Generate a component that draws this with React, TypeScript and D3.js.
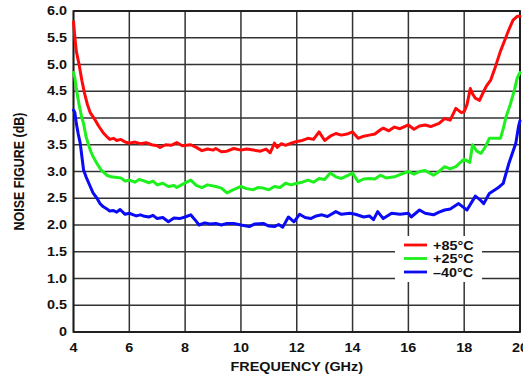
import React from 'react';
import * as d3 from 'd3';

// noise figure (dB) vs frequency (GHz)
const red85: [number, number][] = [
  [4.0, 5.8], [4.05, 5.5], [4.1, 5.25], [4.2, 5.0], [4.3, 4.7], [4.4, 4.45], [4.5, 4.25], [4.6, 4.1],
  [4.78, 3.96], [4.9, 3.85], [5.07, 3.72], [5.2, 3.65], [5.3, 3.6], [5.43, 3.62], [5.55, 3.58], [5.7, 3.6],
  [5.85, 3.55], [6.0, 3.53], [6.2, 3.55], [6.4, 3.52], [6.6, 3.54], [6.8, 3.5], [7.0, 3.48], [7.1, 3.45],
  [7.3, 3.5], [7.5, 3.49], [7.7, 3.54], [7.9, 3.48], [8.2, 3.5], [8.4, 3.45], [8.6, 3.39], [8.8, 3.42],
  [9.0, 3.4], [9.1, 3.43], [9.3, 3.37], [9.5, 3.38], [9.74, 3.43], [10.0, 3.4], [10.2, 3.42], [10.45, 3.4],
  [10.7, 3.38], [10.9, 3.42], [11.05, 3.35], [11.2, 3.53], [11.3, 3.45], [11.45, 3.52], [11.6, 3.49],
  [11.8, 3.53], [12.0, 3.56], [12.2, 3.58], [12.4, 3.62], [12.6, 3.6], [12.8, 3.74], [13.0, 3.58],
  [13.2, 3.66], [13.4, 3.71], [13.6, 3.68], [13.8, 3.7], [14.0, 3.74], [14.2, 3.62], [14.4, 3.66],
  [14.6, 3.68], [14.8, 3.7], [15.0, 3.78], [15.1, 3.81], [15.3, 3.76], [15.5, 3.83], [15.7, 3.8],
  [16.0, 3.87], [16.2, 3.79], [16.4, 3.85], [16.6, 3.87], [16.8, 3.84], [17.1, 3.9], [17.3, 3.99],
  [17.5, 3.96], [17.7, 4.18], [17.9, 4.1], [18.0, 4.12], [18.1, 4.25], [18.22, 4.55], [18.3, 4.45],
  [18.4, 4.37], [18.55, 4.33], [18.7, 4.5], [18.8, 4.6], [18.95, 4.71], [19.12, 4.96], [19.3, 5.25],
  [19.45, 5.45], [19.6, 5.65], [19.75, 5.83], [19.9, 5.9], [20.0, 5.9],
];

const green25: [number, number][] = [
  [4.0, 4.85], [4.05, 4.75], [4.1, 4.55], [4.2, 4.25], [4.3, 4.0], [4.36, 3.9], [4.45, 3.65], [4.6, 3.4],
  [4.7, 3.28], [4.84, 3.15], [5.0, 3.02], [5.2, 2.93], [5.35, 2.9], [5.55, 2.89], [5.7, 2.88], [5.85, 2.82],
  [6.0, 2.84], [6.2, 2.8], [6.35, 2.85], [6.5, 2.83], [6.7, 2.79], [6.85, 2.82], [7.0, 2.75], [7.2, 2.78],
  [7.4, 2.72], [7.6, 2.74], [7.7, 2.7], [7.9, 2.76], [8.2, 2.84], [8.4, 2.74], [8.6, 2.7], [8.8, 2.75],
  [9.1, 2.72], [9.3, 2.69], [9.5, 2.6], [9.7, 2.65], [10.0, 2.72], [10.2, 2.68], [10.45, 2.66], [10.6, 2.7],
  [10.8, 2.69], [11.0, 2.66], [11.2, 2.72], [11.4, 2.7], [11.6, 2.78], [11.8, 2.75], [12.0, 2.78],
  [12.2, 2.8], [12.4, 2.84], [12.6, 2.8], [12.8, 2.87], [13.0, 2.85], [13.2, 2.97], [13.4, 2.9],
  [13.6, 2.87], [13.8, 2.92], [14.0, 2.97], [14.2, 2.81], [14.4, 2.86], [14.6, 2.87], [14.8, 2.86],
  [15.0, 2.93], [15.2, 2.88], [15.5, 2.9], [15.7, 2.94], [16.0, 3.0], [16.2, 2.95], [16.4, 3.0],
  [16.6, 3.02], [16.9, 2.93], [17.1, 3.0], [17.3, 3.09], [17.5, 3.05], [17.7, 3.09], [18.0, 3.23],
  [18.2, 3.17], [18.3, 3.5], [18.45, 3.38], [18.6, 3.34], [18.75, 3.45], [18.9, 3.62], [19.1, 3.62],
  [19.3, 3.62], [19.4, 3.8], [19.5, 4.02], [19.65, 4.25], [19.8, 4.52], [19.9, 4.75], [20.0, 4.85],
];

const blue40: [number, number][] = [
  [4.0, 4.15], [4.05, 4.1], [4.1, 3.9], [4.17, 3.7], [4.24, 3.53], [4.3, 3.28], [4.36, 3.03], [4.45, 2.9],
  [4.6, 2.72], [4.7, 2.6], [4.84, 2.5], [4.95, 2.4], [5.07, 2.34], [5.2, 2.3], [5.3, 2.26], [5.43, 2.27],
  [5.55, 2.24], [5.67, 2.29], [5.85, 2.2], [6.0, 2.22], [6.1, 2.2], [6.25, 2.17], [6.4, 2.19], [6.5, 2.17],
  [6.7, 2.15], [6.85, 2.18], [7.0, 2.12], [7.2, 2.14], [7.4, 2.06], [7.6, 2.13], [7.8, 2.12], [8.0, 2.15],
  [8.2, 2.19], [8.35, 2.1], [8.5, 2.0], [8.7, 2.04], [8.9, 2.02], [9.1, 2.03], [9.3, 2.0], [9.5, 2.03],
  [9.74, 2.03], [10.0, 2.0], [10.3, 1.97], [10.5, 2.02], [10.8, 2.03], [11.0, 1.98], [11.2, 1.97],
  [11.35, 2.01], [11.5, 1.96], [11.7, 2.15], [11.9, 2.06], [12.1, 2.2], [12.3, 2.14], [12.5, 2.12],
  [12.7, 2.17], [12.9, 2.19], [13.1, 2.16], [13.4, 2.25], [13.6, 2.2], [13.9, 2.22], [14.1, 2.2],
  [14.4, 2.15], [14.6, 2.17], [14.75, 2.1], [14.9, 2.25], [15.1, 2.12], [15.4, 2.22], [15.7, 2.2],
  [16.0, 2.22], [16.1, 2.15], [16.4, 2.28], [16.6, 2.22], [16.9, 2.19], [17.1, 2.24], [17.3, 2.28],
  [17.5, 2.3], [17.8, 2.4], [18.0, 2.32], [18.1, 2.28], [18.4, 2.54], [18.55, 2.48], [18.7, 2.4],
  [18.9, 2.59], [19.2, 2.69], [19.4, 2.78], [19.6, 3.15], [19.85, 3.53], [19.95, 3.85], [20.0, 3.95],
];

const xTicks = [4, 6, 8, 10, 12, 14, 16, 18, 20];
const yTicks = [0, 0.5, 1.0, 1.5, 2.0, 2.5, 3.0, 3.5, 4.0, 4.5, 5.0, 5.5, 6.0];
const seriesNames = ['+85°C', '+25°C', '\u201340°C'];
const seriesColors = ['#ff0a0a', '#1ef01e', '#0a0af5'];

const W = 523;
const H = 377;
const FONT = '"Liberation Sans", Arial, sans-serif';
const SX = 1.2; // the source is squeezed a bit, text looks wider than it is tall

const App = () => {
  const x = d3.scaleLinear().domain([4, 20]).range([73.5, 520]);
  const y = d3.scaleLinear().domain([0, 6]).range([332, 11]);

  const line = d3.line<[number, number]>()
    .x(d => x(d[0]))
    .y(d => y(d[1]))
    .curve(d3.curveLinear);

  const series = [red85, green25, blue40];

  // text stretched horizontally
  const label = (tx: number, ty: number, txt: string, anchor: string, size: number, key?: string) => (
    <text key={key} transform={`translate(${tx},${ty}) scale(${SX},1)`} textAnchor={anchor}
      fontFamily={FONT} fontWeight="bold" fontSize={size} fill="#111">{txt}</text>
  );

  return (
    <svg width={W} height={H} style={{ position: 'absolute', left: 0, top: 0, background: '#fff' }}>
      {/* grid */}
      {xTicks.map(t => (
        <line key={'gx' + t} x1={x(t)} x2={x(t)} y1={y(0)} y2={y(6)} stroke="#333" strokeWidth={1.5} />
      ))}
      {yTicks.map(t => (
        <line key={'gy' + t} x1={x(4)} x2={x(20)} y1={y(t)} y2={y(t)} stroke="#333" strokeWidth={1.5} />
      ))}
      <rect x={x(4)} y={y(6)} width={x(20) - x(4)} height={y(0) - y(6)} fill="none" stroke="#1a1a1a" strokeWidth={1.8} />

      {/* legend box covers the grid */}
      <rect x={395} y={236} width={87} height={46} fill="#fff" />

      {series.map((s, i) => (
        <path key={'s' + i} d={line(s) || ''} fill="none" stroke={seriesColors[i]} strokeWidth={3}
          strokeLinejoin="round" strokeLinecap="round" />
      ))}

      {seriesNames.map((n, i) => (
        <g key={'lg' + i}>
          <line x1={404} x2={427} y1={245 + i * 13.5} y2={245 + i * 13.5} stroke={seriesColors[i]} strokeWidth={2.8} />
          {label(433, 249.5 + i * 13.5, n, 'start', 12)}
        </g>
      ))}

      {/* tick labels */}
      {yTicks.map(t => label(67, y(t) + 4.2, t === 0 ? '0' : t.toFixed(1), 'end', 12, 'yl' + t))}
      {xTicks.map(t => label(x(t), 352, String(t), 'middle', 12, 'xl' + t))}

      {/* axis titles */}
      {label((x(4) + x(20)) / 2, 371, 'FREQUENCY (GHz)', 'middle', 12)}
      <text transform={`translate(24,${(y(0) + y(6)) / 2}) scale(${SX},1) rotate(-90)`} textAnchor="middle"
        fontFamily={FONT} fontWeight="bold" fontSize={12.5} fill="#111">NOISE FIGURE (dB)</text>
    </svg>
  );
};

export default App;
